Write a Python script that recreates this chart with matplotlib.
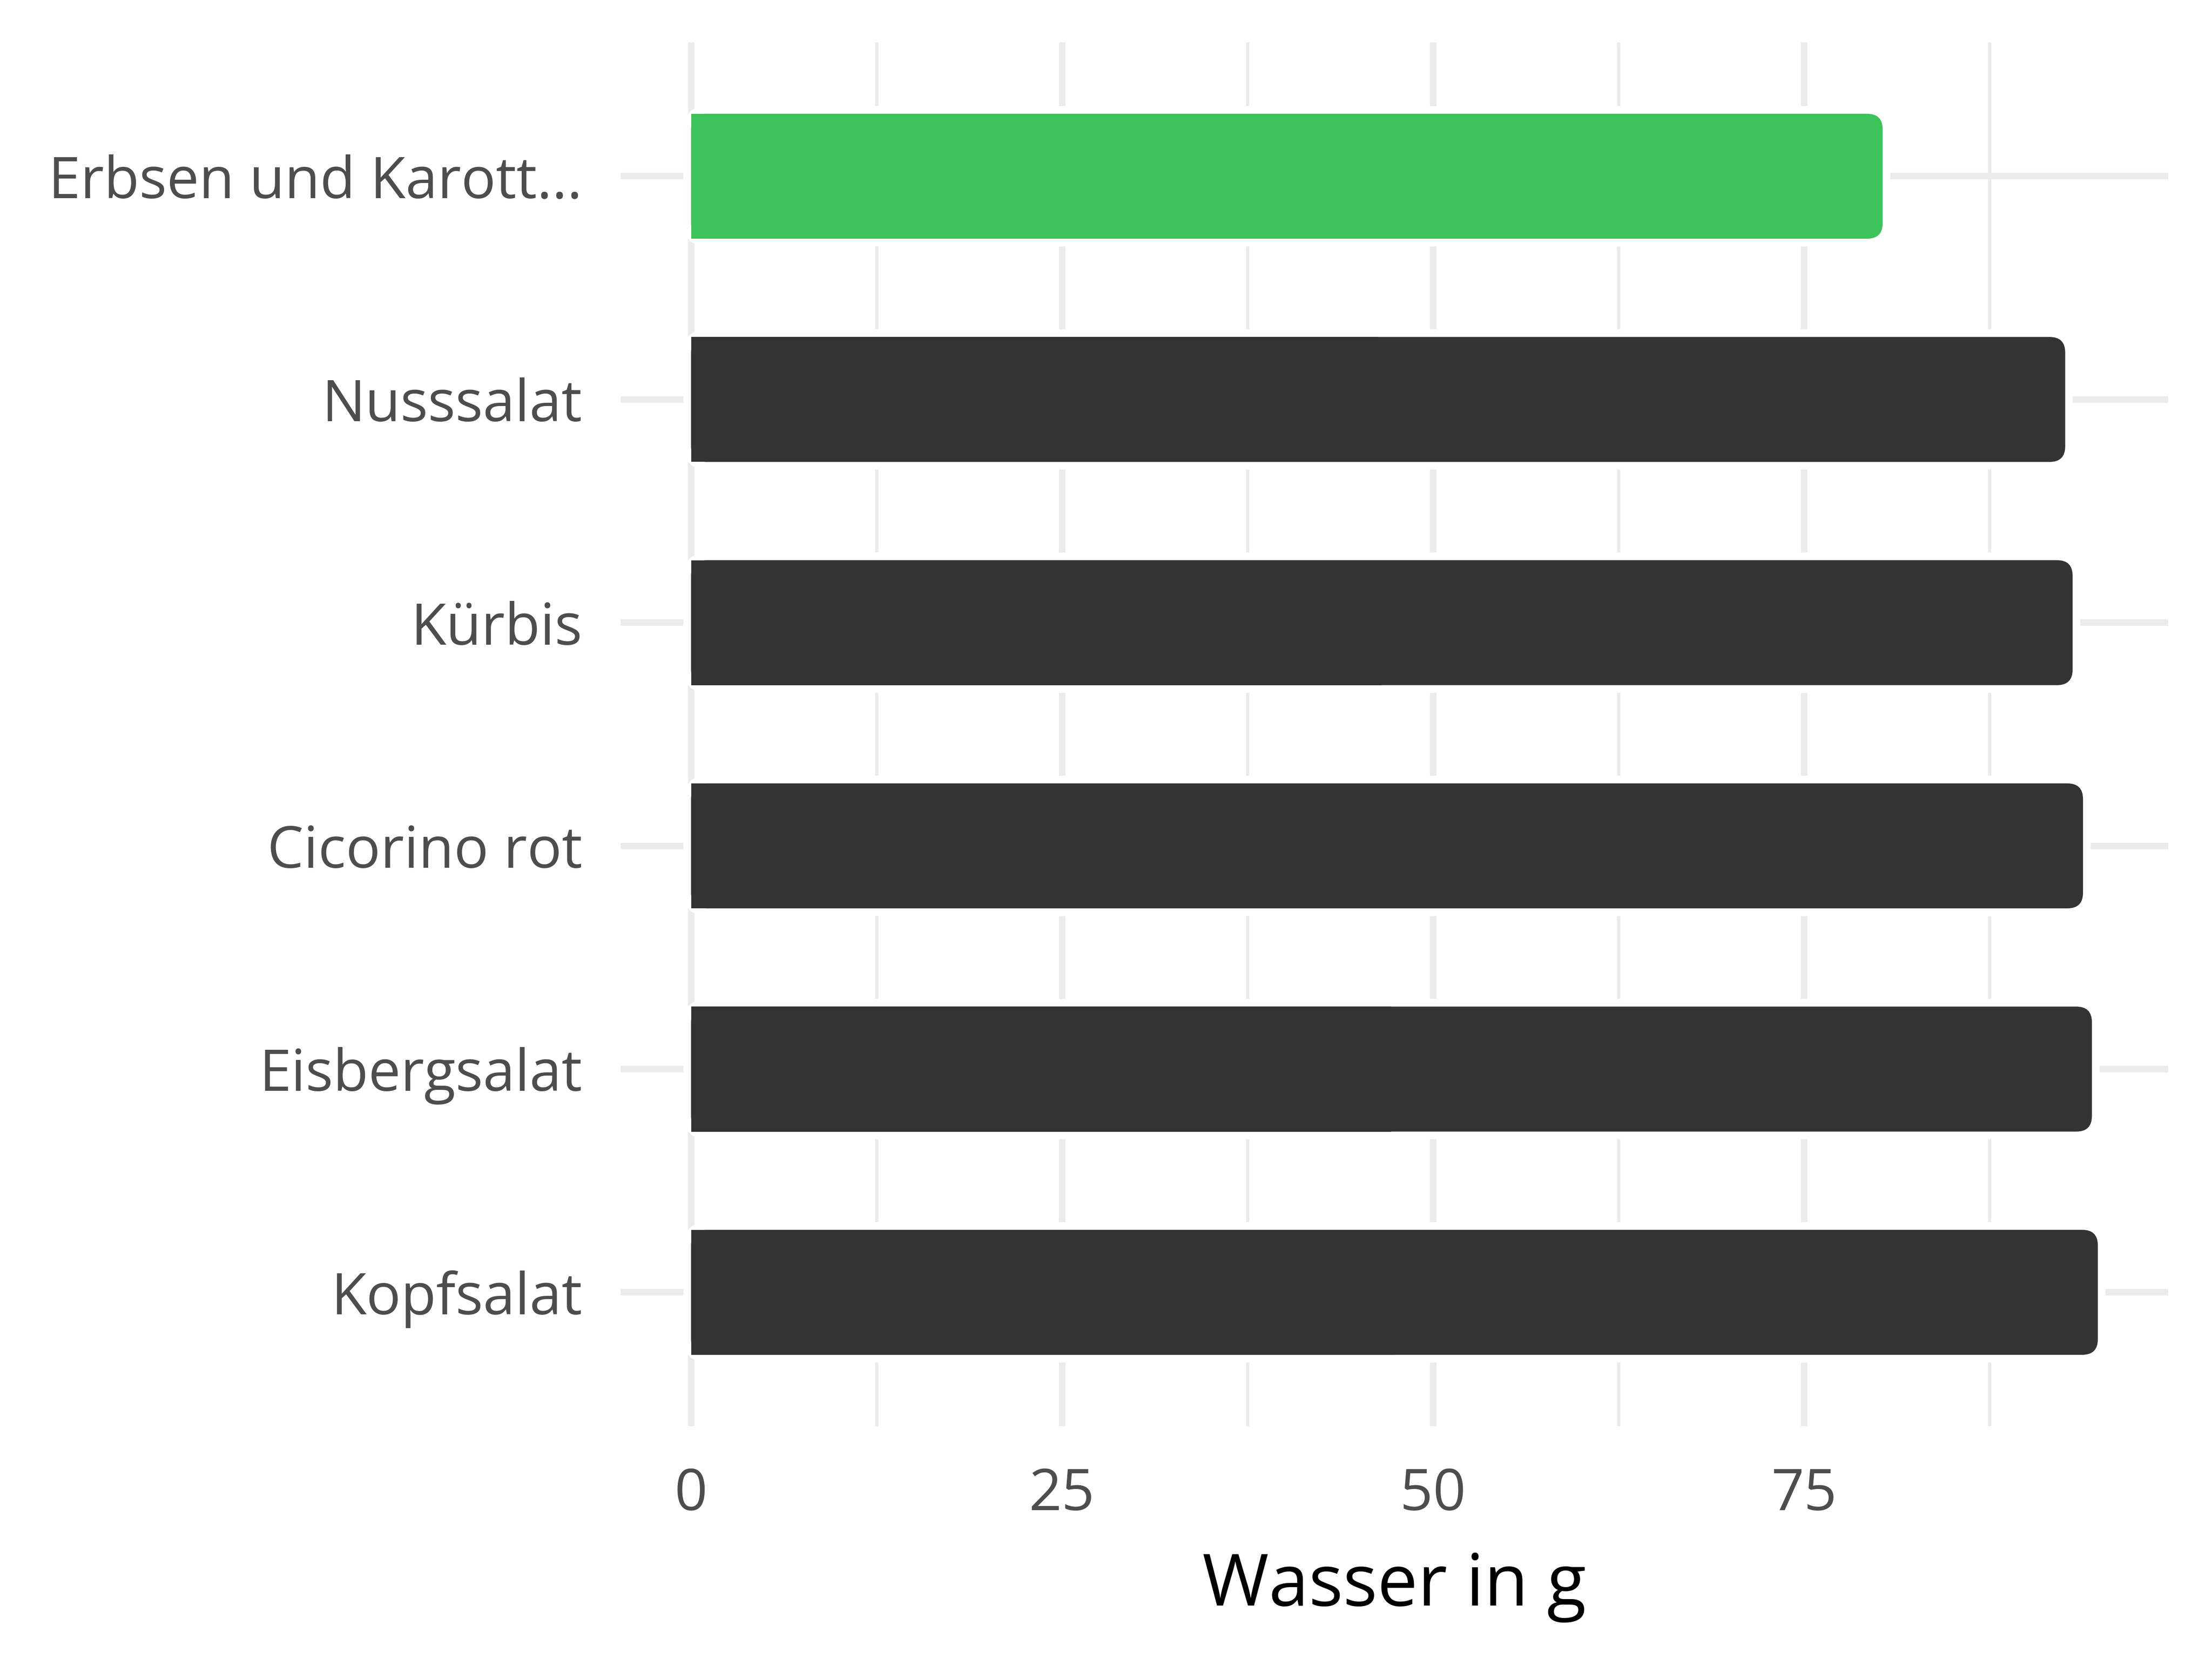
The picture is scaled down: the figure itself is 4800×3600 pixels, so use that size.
import matplotlib
matplotlib.use("Agg")
import matplotlib.pyplot as plt
from matplotlib.patches import FancyBboxPatch, Rectangle

# datos
lebensmittel = ["Erbsen und Karott...", "Nusssalat", "Kürbis", "Cicorino rot",
                "Eisbergsalat", "Kopfsalat"]
wasser = [80.3, 92.6, 93.1, 93.8, 94.4, 94.8]
farben = ["#3EC35A", "#333333", "#333333", "#333333", "#333333", "#333333"]
x_ticks = [0, 25, 50, 75]

plt.rcParams["font.family"] = ["Open Sans", "DejaVu Sans"]

fig = plt.figure(figsize=(16, 12), dpi=300)
ax = fig.add_axes([0.2806, 0.1403, 0.6996, 0.8342])

n = len(lebensmittel)
ypos = list(range(n))[::-1]          # primera categoria arriba
xmax = max(wasser)
ax.set_xlim(-0.05 * xmax, 1.05 * xmax)
ax.set_ylim(-0.6, n - 1 + 0.6)

# rejilla
ax.set_xticks(x_ticks)
ax.set_xticks([12.5, 37.5, 62.5, 87.5], minor=True)
ax.set_yticks(ypos)
ax.set_yticklabels(lebensmittel)
ax.grid(True, which="major", color="#EBEBEB", linewidth=3.4)
ax.grid(True, which="minor", axis="x", color="#EBEBEB", linewidth=1.7)
ax.set_axisbelow(True)
for s in ax.spines.values():
    s.set_visible(False)
ax.tick_params(which="both", length=0)
ax.tick_params(axis="x", labelsize=30, labelcolor="#4D4D4D", pad=21)
ax.tick_params(axis="y", labelsize=30, labelcolor="#4D4D4D", pad=20)

# barras redondeadas a la derecha con borde blanco
alto = 0.56
r = 1.05
aspecto = (ax.get_ylim()[1] - ax.get_ylim()[0]) / (ax.get_xlim()[1] - ax.get_xlim()[0]) * (0.6996 * 16) / (0.8342 * 12)
for y, v, c in zip(ypos, wasser, farben):
    estilo = f"round,pad=0,rounding_size={r}"
    halo = FancyBboxPatch((0, y - alto / 2), v, alto, boxstyle=estilo,
                          mutation_aspect=aspecto, facecolor=c,
                          edgecolor="white", linewidth=8, zorder=2)
    ax.add_patch(halo)
    barra = FancyBboxPatch((0, y - alto / 2), v, alto, boxstyle=estilo,
                           mutation_aspect=aspecto, facecolor=c,
                           edgecolor="none", zorder=3)
    ax.add_patch(barra)
    ax.add_patch(Rectangle((0, y - alto / 2), v / 2, alto, facecolor=c,
                           edgecolor="none", zorder=3))

ax.set_xlabel("Wasser in g", fontsize=37.5, color="black", labelpad=14)

fig.savefig("out.png", dpi=300)
